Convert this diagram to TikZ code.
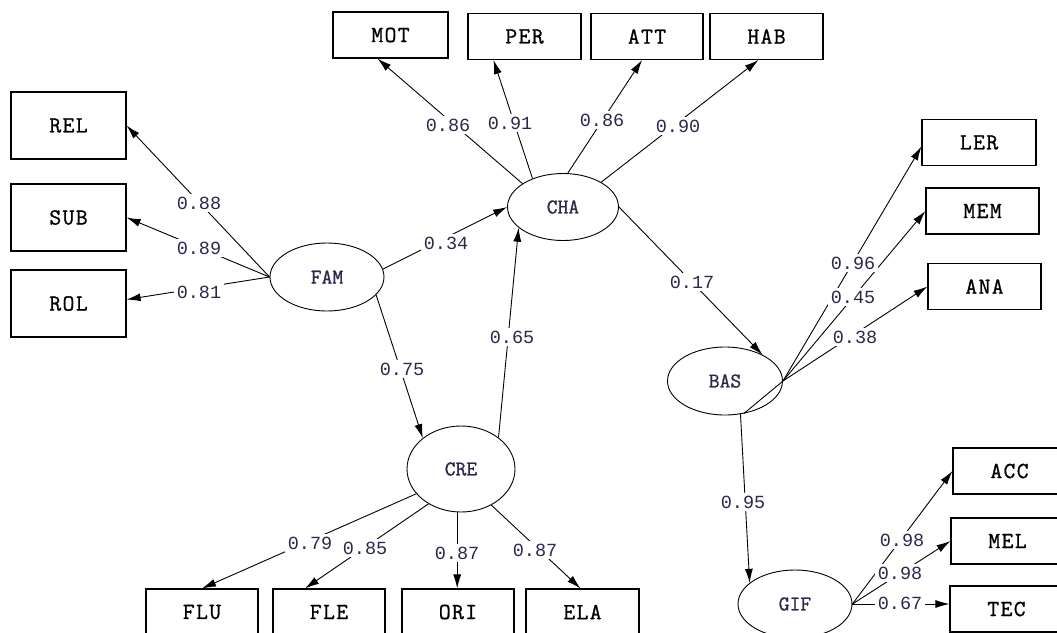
\documentclass[tikz,border=0pt]{standalone}
\usepackage{fontspec}
\setmonofont{Liberation Mono}
\newfontfamily\boxfont[FakeBold=1.0,LetterSpace=6]{Latin Modern Mono}
\newfontfamily\latfont[FakeBold=1.0]{Latin Modern Mono}
\newfontfamily\numfont{Liberation Mono}
\usetikzlibrary{arrows.meta,shapes.geometric}
\definecolor{numcol}{RGB}{45,40,75}
\begin{document}
\begin{tikzpicture}[x=1pt,y=-1pt,
  obs/.style={draw,line width=1.1pt,rectangle,minimum width=113pt,minimum height=46pt,inner sep=0pt,font=\boxfont\fontsize{23}{23}\selectfont},
  obstall/.style={obs,minimum height=67pt,minimum width=115pt},
  lat/.style={draw,line width=0.9pt,ellipse,inner sep=0pt,font=\latfont\fontsize{21}{21}\selectfont,text=numcol},
  conn/.style={draw,line width=0.9pt,-{Latex[length=14pt,width=8pt]}},
  plain/.style={draw,line width=0.9pt},
  lab/.style={fill=white,inner sep=2.5pt,text=numcol,font=\numfont\fontsize{18.5}{18.5}\selectfont}]
\useasboundingbox[fill=white] (0,0) rectangle (1057,632);
% observed boxes
\node[obstall] (REL) at (68.5,125.5) {REL};
\node[obstall] (SUB) at (68.5,217.5) {SUB};
\node[obstall] (ROL) at (68.5,303.5) {ROL};
\node[obs,minimum width=115pt] (MOT) at (390.5,35) {MOT};
\node[obs] (PER) at (524.5,36.5) {PER};
\node[obs,minimum width=112pt] (ATT) at (647,36.5) {ATT};
\node[obs] (HAB) at (766.5,36.5) {HAB};
\node[obs,minimum width=114pt] (LER) at (979,142.5) {LER};
\node[obs] (MEM) at (982.5,211) {MEM};
\node[obs] (ANA) at (984.5,286.5) {ANA};
\node[obs] (ACC) at (1009.5,471) {ACC};
\node[obs] (MEL) at (1007.5,541) {MEL};
\node[obs] (TEC) at (1006.5,609) {TEC};
\node[obs,minimum width=112pt] (FLU) at (202,612) {FLU};
\node[obs,minimum width=112pt] (FLE) at (329,612) {FLE};
\node[obs,minimum width=112pt] (ORI) at (458,612) {ORI};
\node[obs] (ELA) at (582.5,612) {ELA};
% latent ellipses
\node[lat,minimum width=114pt,minimum height=68pt] (FAM) at (327,277) {FAM};
\node[lat,minimum width=111pt,minimum height=67pt] (CHA) at (563,207) {CHA};
\node[lat,minimum width=108pt,minimum height=86pt] (CRE) at (461,469) {CRE};
\node[lat,minimum width=115pt,minimum height=68pt] (BAS) at (725,381) {BAS};
\node[lat,minimum width=114pt,minimum height=68pt] (GIF) at (795,604) {GIF};
% connectors
\draw[conn] (FAM.west) -- (REL.east);
\draw[conn] (FAM.west) -- (SUB.east);
\draw[conn] (FAM.west) -- ([yshift=4pt]ROL.east);
\draw[conn] (FAM.8) -- (CHA.west);
\draw[conn] (FAM.-20) -- (CRE.141);
\draw[conn] (CRE.40) -- (CHA.205);
\draw[conn] (CHA.150) -- ([xshift=-13pt]MOT.south);
\draw[conn] (CHA.137) -- ([xshift=-31pt]PER.south);
\draw[conn] (CHA.82) -- ([xshift=-5pt]ATT.south);
\draw[conn] (CHA.33) -- ([xshift=-8pt]HAB.south);
\draw[conn] (CHA.east) -- (BAS.35);
\draw[conn] (BAS.east) -- ([yshift=-4pt]LER.west);
\draw[conn] (BAS.east) -- (MEM.west);
\draw[conn] (BAS.east) -- (ANA.west);
\draw[plain] (BAS.-60) -- (BAS.east);
\draw[conn] (BAS.-65) -- (GIF.155);
\draw[conn] (GIF.east) -- (ACC.west);
\draw[conn] (GIF.east) -- (MEL.west);
\draw[conn] (GIF.east) -- (GIF.east -| TEC.west);
\draw[conn] (CRE.-151) -- (FLU.north);
\draw[conn] (CRE.-133) -- ([xshift=-24pt]FLE.north);
\draw[conn] (CRE.-95) -- (CRE.-95 |- ORI.north);
\draw[conn] (CRE.-50) -- ([xshift=-2pt]ELA.north);
% labels
\node[lab] (l1) at (199,203) {0.88};
\node[lab] (l2) at (199,248) {0.89};
\node[lab] (l3) at (199,292) {0.81};
\node[lab] (l4) at (448,125) {0.86};
\node[lab] (l5) at (510,123) {0.91};
\node[lab] (l6) at (602,120) {0.86};
\node[lab] (l7) at (678,126) {0.90};
\node[lab] (l8) at (446,243) {0.34};
\node[lab] (l9) at (402,369) {0.75};
\node[lab] (l10) at (512,337) {0.65};
\node[lab] (l11) at (692,282) {0.17};
\node[lab] (l12) at (853,263) {0.96};
\node[lab] (l13) at (853,297) {0.45};
\node[lab] (l14) at (855,337) {0.38};
\node[lab] (l15) at (743,502) {0.95};
\node[lab] (l16) at (902,540) {0.98};
\node[lab] (l17) at (900,573) {0.98};
\node[lab] (l18) at (900,603) {0.67};
\node[lab] (l19) at (310,543) {0.79};
\node[lab] (l20) at (365,548) {0.85};
\node[lab] (l21) at (457,553) {0.87};
\node[lab] (l22) at (535,550) {0.87};
\end{tikzpicture}
\end{document}
